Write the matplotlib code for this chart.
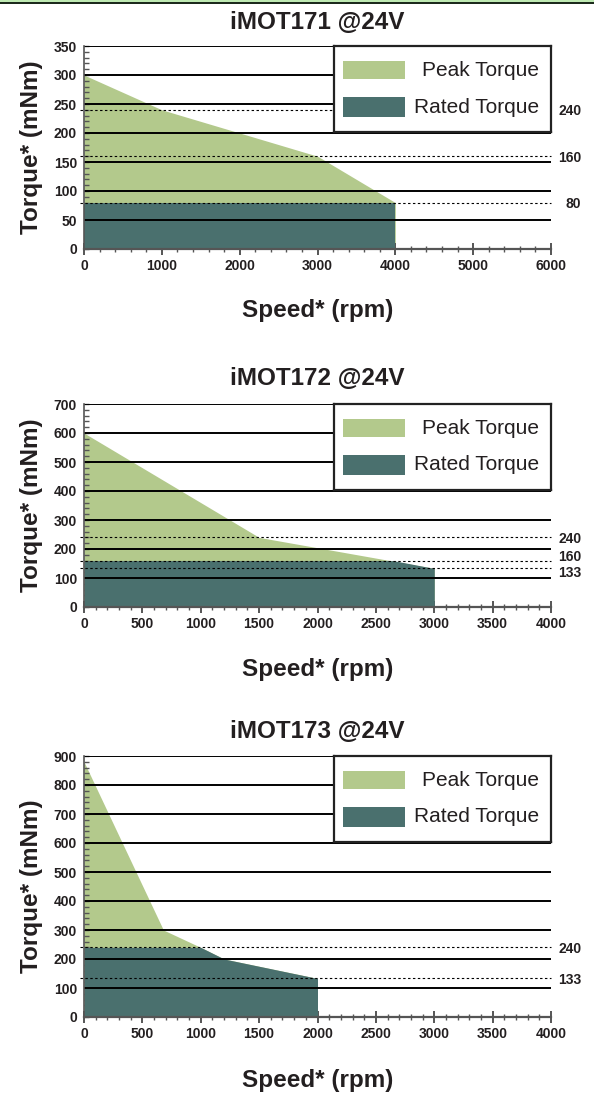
import matplotlib
matplotlib.use('Agg')
import matplotlib.pyplot as plt
import matplotlib.transforms as mtransforms
from matplotlib.patches import Rectangle

# ---- data -------------------------------------------------------------
titles = ['iMOT171 @24V', 'iMOT172 @24V', 'iMOT173 @24V']

x_max = [6000, 4000, 4000]
x_step = [1000, 500, 500]
y_max = [350, 700, 900]
y_step = [50, 100, 100]
y_minor = [10, 20, 20]

peak_speed = [[0, 1000, 3000, 4000],
              [0, 1500, 3000],
              [0, 680, 1000, 1200, 2000]]
peak_torque = [[300, 240, 160, 80],
               [600, 240, 133],
               [880, 300, 240, 200, 133]]

rated_speed = [[0, 4000],
               [0, 2650, 3000],
               [0, 1000, 1200, 2000]]
rated_torque = [[80, 80],
                [160, 160, 133],
                [240, 240, 200, 133]]

marks = [[240, 160, 80],
         [240, 160, 133],
         [240, 133]]

# ---- style ------------------------------------------------------------
plt.rcParams['font.family'] = ['Liberation Sans', 'DejaVu Sans']
PEAK = '#b3c98c'
RATED = '#4a706e'
AXIS = '#555555'
TEXT = '#231f20'

W, H = 594, 1095
fig = plt.figure(figsize=(W / 100, H / 100), dpi=100)

# axes boxes in pixels: left, top, right, bottom
boxes = [(84, 46, 551, 249), (84, 404, 551, 607), (84, 756, 551, 1017)]
title_pad = [12, 14, 13]
xlabel_y = [-0.245, -0.25, -0.2]
mark_nudge = {(1, 160): 2.5, (1, 133): -3.5}

for i, (l, t, r, b) in enumerate(boxes):
    ax = fig.add_axes([l / W, (H - b) / H, (r - l) / W, (b - t) / H])
    ax.set_xlim(0, x_max[i])
    ax.set_ylim(0, y_max[i])

    ax.fill_between(peak_speed[i], peak_torque[i], 0, color=PEAK, lw=0, zorder=1)
    ax.fill_between(rated_speed[i], rated_torque[i], 0, color=RATED, lw=0, zorder=2)

    yt = list(range(0, y_max[i] + 1, y_step[i]))
    ax.hlines(yt[1:], 0, x_max[i], color='black', lw=1.4, zorder=3)

    ax.hlines(marks[i], -0.008 * x_max[i], x_max[i], color='black', lw=0.8,
              linestyles=(0, (2.2, 2.2)), zorder=3, clip_on=False)
    trans = mtransforms.blended_transform_factory(ax.transAxes, ax.transData)
    for m in marks[i]:
        ax.annotate(str(m), xy=(1.065, m), xycoords=trans,
                    xytext=(0, mark_nudge.get((i, m), -1)), textcoords='offset points',
                    ha='right', va='center', fontsize=10, fontweight='bold', color=TEXT)

    ax.set_xticks(range(0, x_max[i] + 1, x_step[i]))
    ax.set_xticks(range(0, x_max[i] + 1, 200 if x_step[i] == 1000 else 100), minor=True)
    ax.set_yticks(yt)
    ax.set_yticks(range(0, y_max[i] + 1, y_minor[i]), minor=True)

    for s in ['top', 'right']:
        ax.spines[s].set_visible(False)
    ax.spines['left'].set_color(AXIS)
    ax.spines['left'].set_linewidth(1.2)
    ax.spines['bottom'].set_color(AXIS)
    ax.spines['bottom'].set_linewidth(1.6)
    ax.spines['left'].set_zorder(4)
    ax.spines['bottom'].set_zorder(4)

    ax.tick_params(axis='x', which='major', direction='inout', length=8, width=1.4,
                   color=AXIS, pad=3, labelsize=10, labelcolor=TEXT)
    ax.tick_params(axis='x', which='minor', direction='inout', length=4, width=1,
                   color=AXIS)
    ax.tick_params(axis='y', which='both', direction='in', length=3.5, width=1,
                   color=AXIS, pad=5, labelsize=10, labelcolor=TEXT)
    for lab in ax.get_xticklabels() + ax.get_yticklabels():
        lab.set_fontweight('bold')

    ax.set_title(titles[i], fontsize=17.5, fontweight='bold', color=TEXT, pad=title_pad[i])
    ax.set_xlabel('Speed* (rpm)', fontsize=17.5, fontweight='bold', color=TEXT)
    ax.xaxis.set_label_coords(0.5, xlabel_y[i])
    ax.set_ylabel('Torque* (mNm)', fontsize=17.5, fontweight='bold', color=TEXT)
    ax.yaxis.set_label_coords(-0.088, 0.5)

    # legend box (217 x 86 px) in the upper right corner
    bw, bh = 217 / (r - l), 86 / (b - t)
    lg = ax.inset_axes([1 - bw, 1 - bh, bw, bh], zorder=6)
    lg.set_xlim(0, 217)
    lg.set_ylim(86, 0)
    lg.set_xticks([])
    lg.set_yticks([])
    lg.set_facecolor('white')
    for s in lg.spines.values():
        s.set_linewidth(1.6)
        s.set_color('#222222')
    lg.add_patch(Rectangle((9, 14.7), 62, 18.6, color=PEAK, lw=0))
    lg.add_patch(Rectangle((9, 51.3), 62, 19.4, color=RATED, lw=0))
    lg.text(205, 24, 'Peak Torque', ha='right', va='center', fontsize=15, color=TEXT)
    lg.text(205, 61, 'Rated Torque', ha='right', va='center', fontsize=15, color=TEXT)

# thin green rule along the top edge
fig.add_artist(Rectangle((0, 1 - 2.5 / H), 1, 2.5 / H, transform=fig.transFigure,
                         color='#bfeab3', lw=0))
fig.add_artist(Rectangle((0, 1 - 4 / H), 1, 1.5 / H, transform=fig.transFigure,
                         color='#1c2a1c', lw=0))

fig.savefig('out.png', dpi=100)
